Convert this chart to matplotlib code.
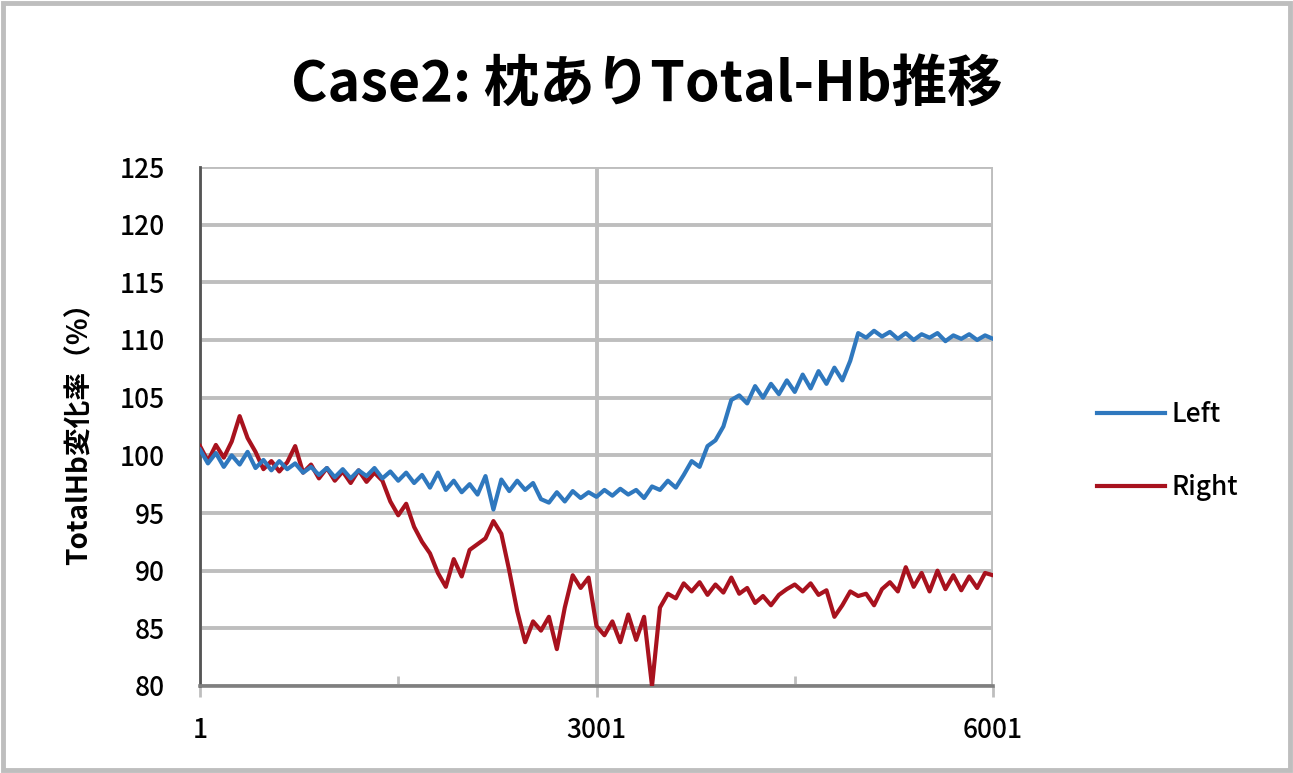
import numpy as np
import matplotlib
matplotlib.use("Agg")
import matplotlib.pyplot as plt
from matplotlib.patches import Rectangle

plt.rcParams['font.family'] = ['Noto Sans CJK JP', 'DejaVu Sans']

title = "Case2: 枕ありTotal-Hb推移"
ylabel = "TotalHb変化率（%）"
series_names = ["Left", "Right"]
x_ticks = [1, 3001, 6001]
y_ticks = [80, 85, 90, 95, 100, 105, 110, 115, 120, 125]

left_values = [
    100.5, 99.3, 100.2, 99.0, 100.0, 99.2, 100.3, 98.9, 99.6, 98.7,
    99.5, 98.8, 99.3, 98.5, 99.0, 98.3, 98.9, 98.1, 98.8, 98.0,
    98.7, 98.2, 98.9, 98.0, 98.6, 97.8, 98.5, 97.6, 98.3, 97.2,
    98.5, 97.0, 97.8, 96.8, 97.5, 96.6, 98.2, 95.3, 97.9, 96.9,
    97.8, 97.0, 97.6, 96.2, 95.9, 96.8, 96.0, 96.9, 96.3, 96.8,
    96.4, 97.0, 96.5, 97.1, 96.6, 97.0, 96.3, 97.3, 97.0, 97.8,
    97.2, 98.3, 99.5, 99.0, 100.8, 101.3, 102.5, 104.8, 105.2, 104.5,
    106.0, 105.0, 106.2, 105.3, 106.5, 105.5, 107.0, 105.8, 107.3, 106.2,
    107.6, 106.5, 108.2, 110.6, 110.2, 110.8, 110.3, 110.7, 110.1, 110.6,
    110.0, 110.5, 110.2, 110.6, 109.9, 110.4, 110.1, 110.5, 110.0, 110.4,
    110.1,
]

right_values = [
    100.8, 99.5, 100.9, 99.8, 101.2, 103.4, 101.5, 100.3, 98.8, 99.5,
    98.6, 99.4, 100.8, 98.5, 99.2, 98.0, 98.9, 97.8, 98.6, 97.6,
    98.7, 97.7, 98.5, 97.8, 96.0, 94.8, 95.8, 93.8, 92.5, 91.5,
    89.8, 88.6, 91.0, 89.5, 91.8, 92.3, 92.8, 94.3, 93.2, 90.0,
    86.5, 83.8, 85.6, 84.8, 86.0, 83.2, 86.8, 89.6, 88.5, 89.4,
    85.2, 84.4, 85.6, 83.8, 86.2, 84.0, 86.0, 80.0, 86.8, 88.0,
    87.6, 88.9, 88.2, 89.0, 87.9, 88.8, 88.1, 89.4, 88.0, 88.5,
    87.2, 87.8, 87.0, 87.9, 88.4, 88.8, 88.2, 88.9, 87.9, 88.3,
    86.0, 87.0, 88.2, 87.8, 88.0, 87.0, 88.4, 89.0, 88.2, 90.3,
    88.6, 89.8, 88.2, 90.0, 88.4, 89.6, 88.3, 89.5, 88.5, 89.8,
    89.6,
]

x_left = np.linspace(x_ticks[0], x_ticks[-1], len(left_values))
x_right = np.linspace(x_ticks[0], x_ticks[-1], len(right_values))

W, H = 1293, 773
fig = plt.figure(figsize=(W / 100, H / 100), dpi=100)
fig.patch.set_facecolor('white')
fig.patches.append(Rectangle((0.002, 0.004), 0.996, 0.992, transform=fig.transFigure,
                             fill=False, edgecolor='#BEBEBE', linewidth=3.5))

ax = fig.add_axes([200 / W, 1 - 686 / H, (993 - 200) / W, (686 - 167) / H])

ax.plot(x_right, right_values, color='#A8121E', linewidth=3.0, zorder=3, label=series_names[1])
ax.plot(x_left, left_values, color='#2F78BE', linewidth=3.0, zorder=4, label=series_names[0])

ax.set_xlim(x_ticks[0], x_ticks[-1])
ax.set_ylim(y_ticks[0], y_ticks[-1])
ax.set_yticks(y_ticks)
ax.set_xticks(x_ticks)
ax.set_xticks([1501, 4501], minor=True)

ax.grid(axis='y', color='#BEBEBE', linewidth=2.8, zorder=0)
ax.grid(axis='x', which='major', color='#BEBEBE', linewidth=2.8, zorder=0)
ax.set_axisbelow(True)

for s in ['top', 'right']:
    ax.spines[s].set_visible(False)
ax.spines['left'].set_color('#555555')
ax.spines['left'].set_linewidth(2.0)
ax.spines['bottom'].set_color('#7F7F7F')
ax.spines['bottom'].set_linewidth(2.6)

ax.tick_params(axis='y', length=0, labelsize=19, pad=25, labelcolor='black')
ax.tick_params(axis='x', which='major', direction='out', length=8, width=2,
               color='#BEBEBE', labelsize=19, pad=14)
ax.tick_params(axis='x', which='minor', direction='in', length=7, width=2, color='#BEBEBE')
for lab in ax.get_xticklabels() + ax.get_yticklabels():
    lab.set_fontweight('medium')

ax.set_ylabel(ylabel, fontsize=20, labelpad=19, fontweight='bold')

fig.text(0.5, 1 - 85 / H, title, ha='center', va='center', fontsize=40, fontweight='bold')

h, l = ax.get_legend_handles_labels()
order = [1, 0]
leg = fig.legend([h[i] for i in order], [l[i] for i in order],
                 loc='center left', bbox_to_anchor=(1073 / W, 1 - 451 / H),
                 frameon=False, fontsize=19, handlelength=2.6, labelspacing=1.75,
                 handletextpad=0.25)
for t in leg.get_texts():
    t.set_fontweight('medium')

fig.savefig('out.png', dpi=100)
